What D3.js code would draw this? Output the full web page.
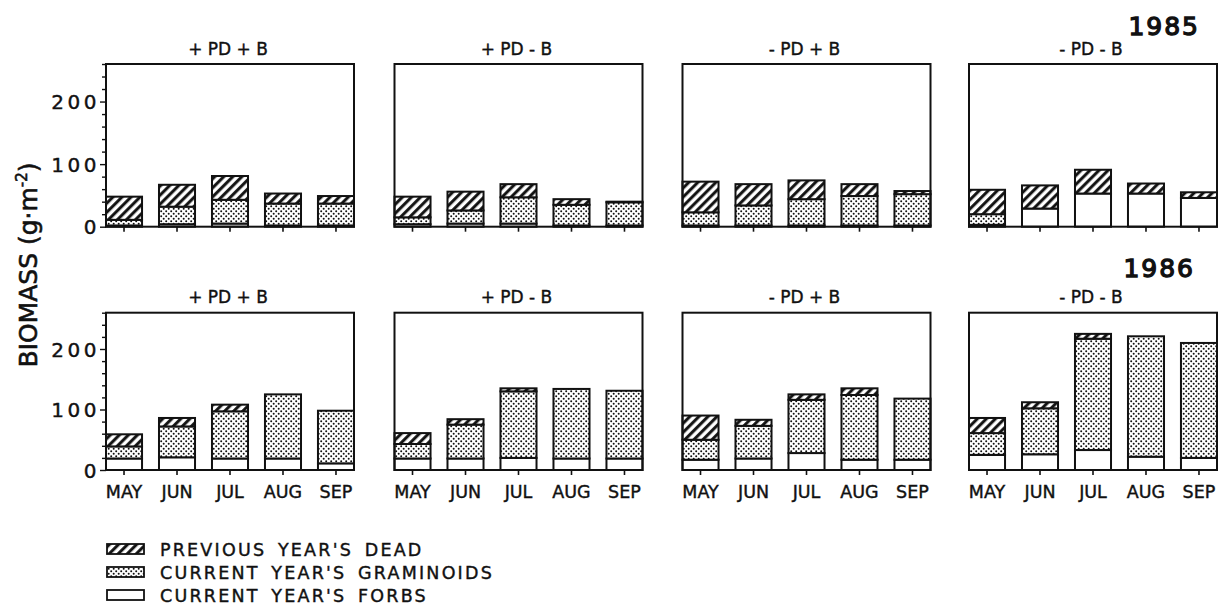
<!DOCTYPE html>
<html>
<head>
<meta charset="utf-8">
<script src="https://cdn.jsdelivr.net/npm/d3@7/dist/d3.min.js"></script>
<style>
  html, body { margin: 0; padding: 0; background: #fff; }
  svg { display: block; font-family: "DejaVu Sans", sans-serif; }
  text { fill: #111; stroke: #111; stroke-width: 0.4px; }
</style>
</head>
<body>
<svg id="chart" width="1223" height="615"></svg>
<script>
// ---------- data (g·m^-2) ----------
const months = ["MAY", "JUN", "JUL", "AUG", "SEP"];
const treatments = ["+PD+B", "+PD-B", "-PD+B", "-PD-B"];
const treatmentLabels = ["+ PD + B", "+ PD - B", "- PD + B", "- PD - B"];
const years = ["1985", "1986"];
const yTickLabels = [0, 100, 200];

// rows: treatments; columns: months
const forbs1985 = [
  [2, 4, 5, 2, 2],
  [4, 5, 5, 2, 2],
  [2, 2, 2, 2, 2],
  [3, 29, 53, 53, 46]
];
const graminoids1985 = [
  [9, 28, 38, 35, 35],
  [11, 21, 42, 33, 37],
  [21, 32, 42, 47, 50],
  [17, 0, 0, 0, 0]
];
const dead1985 = [
  [37, 35, 38, 16, 12],
  [33, 30, 21, 9, 1],
  [49, 34, 30, 19, 5],
  [39, 37, 38, 16, 9]
];

const forbs1986 = [
  [19, 21, 19, 19, 11],
  [19, 19, 20, 19, 19],
  [17, 19, 28, 17, 17],
  [25, 26, 33, 22, 20]
];
const graminoids1986 = [
  [20, 51, 78, 106, 87],
  [24, 56, 110, 115, 112],
  [33, 54, 88, 107, 101],
  [36, 76, 184, 199, 190]
];
const dead1986 = [
  [20, 14, 11, 0, 0],
  [18, 9, 5, 0, 0],
  [40, 10, 9, 11, 0],
  [25, 10, 8, 0, 0]
];

const legendLabels = ["PREVIOUS YEAR'S DEAD", "CURRENT YEAR'S GRAMINOIDS", "CURRENT YEAR'S FORBS"];

// ---------- layout ----------
const svg = d3.select("#chart");
const defs = svg.append("defs");

// hatch pattern "///"
defs.append("pattern")
  .attr("id", "hatch")
  .attr("patternUnits", "userSpaceOnUse")
  .attr("width", 6.4).attr("height", 6.4)
  .attr("patternTransform", "rotate(45)")
  .call(p => {
    p.append("rect").attr("width", 6.4).attr("height", 6.4).attr("fill", "#fff");
    p.append("line").attr("x1", 1.6).attr("y1", 0).attr("x2", 1.6).attr("y2", 6.4)
      .attr("stroke", "#111").attr("stroke-width", 3);
  });

// stipple pattern
defs.append("pattern")
  .attr("id", "dots")
  .attr("patternUnits", "userSpaceOnUse")
  .attr("width", 5).attr("height", 5)
  .call(p => {
    p.append("rect").attr("width", 5).attr("height", 5).attr("fill", "#fff");
    p.append("circle").attr("cx", 1.2).attr("cy", 1.2).attr("r", 1.0).attr("fill", "#111");
    p.append("circle").attr("cx", 3.7).attr("cy", 3.7).attr("r", 1.0).attr("fill", "#111");
  });

const fills = { forbs: "#fff", graminoids: "url(#dots)", dead: "url(#hatch)" };
const keys = ["forbs", "graminoids", "dead"];

const panelLefts = [106, 394.5, 682.5, 969];
const panelW = 248;
const rows = [
  { top: 64, bottom: 226.7, f: forbs1985, g: graminoids1985, d: dead1985,
    titleY: 55, yearY: 35, yearX: 1200, showMonths: false },
  { top: 312.7, bottom: 470, f: forbs1986, g: graminoids1986, d: dead1986,
    titleY: 303, yearY: 277, yearX: 1195, showMonths: true }
];

const stack = d3.stack().keys(keys);

rows.forEach((row, ri) => {
  const y = d3.scaleLinear().domain([0, 260]).range([row.bottom, row.top]);

  // year label
  svg.append("text")
    .attr("x", row.yearX).attr("y", row.yearY)
    .attr("text-anchor", "end")
    .attr("font-size", 25)
    .style("stroke-width", "1.3px")
    .attr("letter-spacing", 2)
    .text(years[ri]);

  treatments.forEach((tr, ti) => {
    const x0 = panelLefts[ti];
    const x = d3.scaleBand().domain(months).range([x0, x0 + panelW])
      .paddingInner(0.32).paddingOuter(0);

    const g = svg.append("g");

    // title
    g.append("text")
      .attr("x", x0 + panelW / 2 - 2).attr("y", row.titleY)
      .attr("text-anchor", "middle")
      .attr("font-size", 17)
      .style("white-space", "pre")
      .text(treatmentLabels[ti]);

    // bars
    const rowsData = months.map((m, mi) => ({
      month: m,
      forbs: row.f[ti][mi],
      graminoids: row.g[ti][mi],
      dead: row.d[ti][mi]
    }));
    const series = stack(rowsData);
    series.forEach(s => {
      g.append("g").selectAll("rect")
        .data(s.filter(d => d[1] - d[0] > 0))
        .join("rect")
        .attr("x", d => x(d.data.month))
        .attr("width", x.bandwidth())
        .attr("y", d => y(d[1]))
        .attr("height", d => y(d[0]) - y(d[1]))
        .attr("fill", fills[s.key])
        .attr("stroke", "#111")
        .attr("stroke-width", 2);
    });

    // bottom axis ticks
    const xAxis = d3.axisBottom(x).tickSize(5).tickSizeOuter(0)
      .tickFormat(row.showMonths ? (d => d) : (() => ""));
    const ax = g.append("g")
      .attr("transform", `translate(0,${row.bottom})`)
      .call(xAxis);
    ax.select(".domain").remove();
    ax.selectAll(".tick line").attr("stroke", "#111").attr("stroke-width", 1.6);
    ax.selectAll(".tick text")
      .attr("font-size", 17.5).attr("font-family", "DejaVu Sans, sans-serif")
      .attr("fill", "#111").attr("dy", "1.15em");

    // left axis only on first panel
    if (ti === 0) {
      const yAxis = d3.axisLeft(y)
        .tickValues(d3.range(0, 261, 20))
        .tickSize(4).tickSizeOuter(0)
        .tickFormat(d => yTickLabels.includes(d) ? d : "");
      const ay = g.append("g").attr("transform", `translate(${x0},0)`).call(yAxis);
      ay.select(".domain").remove();
      ay.selectAll(".tick line").attr("stroke", "#111").attr("stroke-width", 1.4)
        .attr("x2", d => yTickLabels.includes(d) ? -6 : -4);
      ay.selectAll(".tick text")
        .attr("font-size", 20).attr("font-family", "DejaVu Sans, sans-serif")
        .attr("letter-spacing", 3.5)
        .attr("fill", "#111").attr("x", -6).attr("dy", "0.36em");
    }

    // frame
    g.append("rect")
      .attr("x", x0).attr("y", row.top)
      .attr("width", panelW).attr("height", row.bottom - row.top)
      .attr("fill", "none").attr("stroke", "#111").attr("stroke-width", 2);
  });
});

// y-axis title
const yt = svg.append("text")
  .attr("transform", "translate(37,265) rotate(-90)")
  .attr("text-anchor", "middle")
  .attr("font-size", 25)
  .style("stroke-width", "0.6px");
yt.append("tspan").text("BIOMASS  (g·m");
yt.append("tspan").attr("font-size", 15).attr("dy", -10).text("-2");
yt.append("tspan").attr("dy", 10).text(")");

// legend
const legendFills = ["url(#hatch)", "url(#dots)", "#fff"];
const legendY = [549, 572, 595];
legendLabels.forEach((lab, i) => {
  svg.append("rect")
    .attr("x", 107).attr("y", legendY[i] - 5)
    .attr("width", 37).attr("height", 10)
    .attr("fill", legendFills[i])
    .attr("stroke", "#111").attr("stroke-width", 1.8);
  svg.append("text")
    .attr("x", 160).attr("y", legendY[i] + 7)
    .attr("font-size", 17.5)
    .attr("letter-spacing", 2.2)
    .attr("word-spacing", 4)
    .text(lab);
});
</script>
</body>
</html>
